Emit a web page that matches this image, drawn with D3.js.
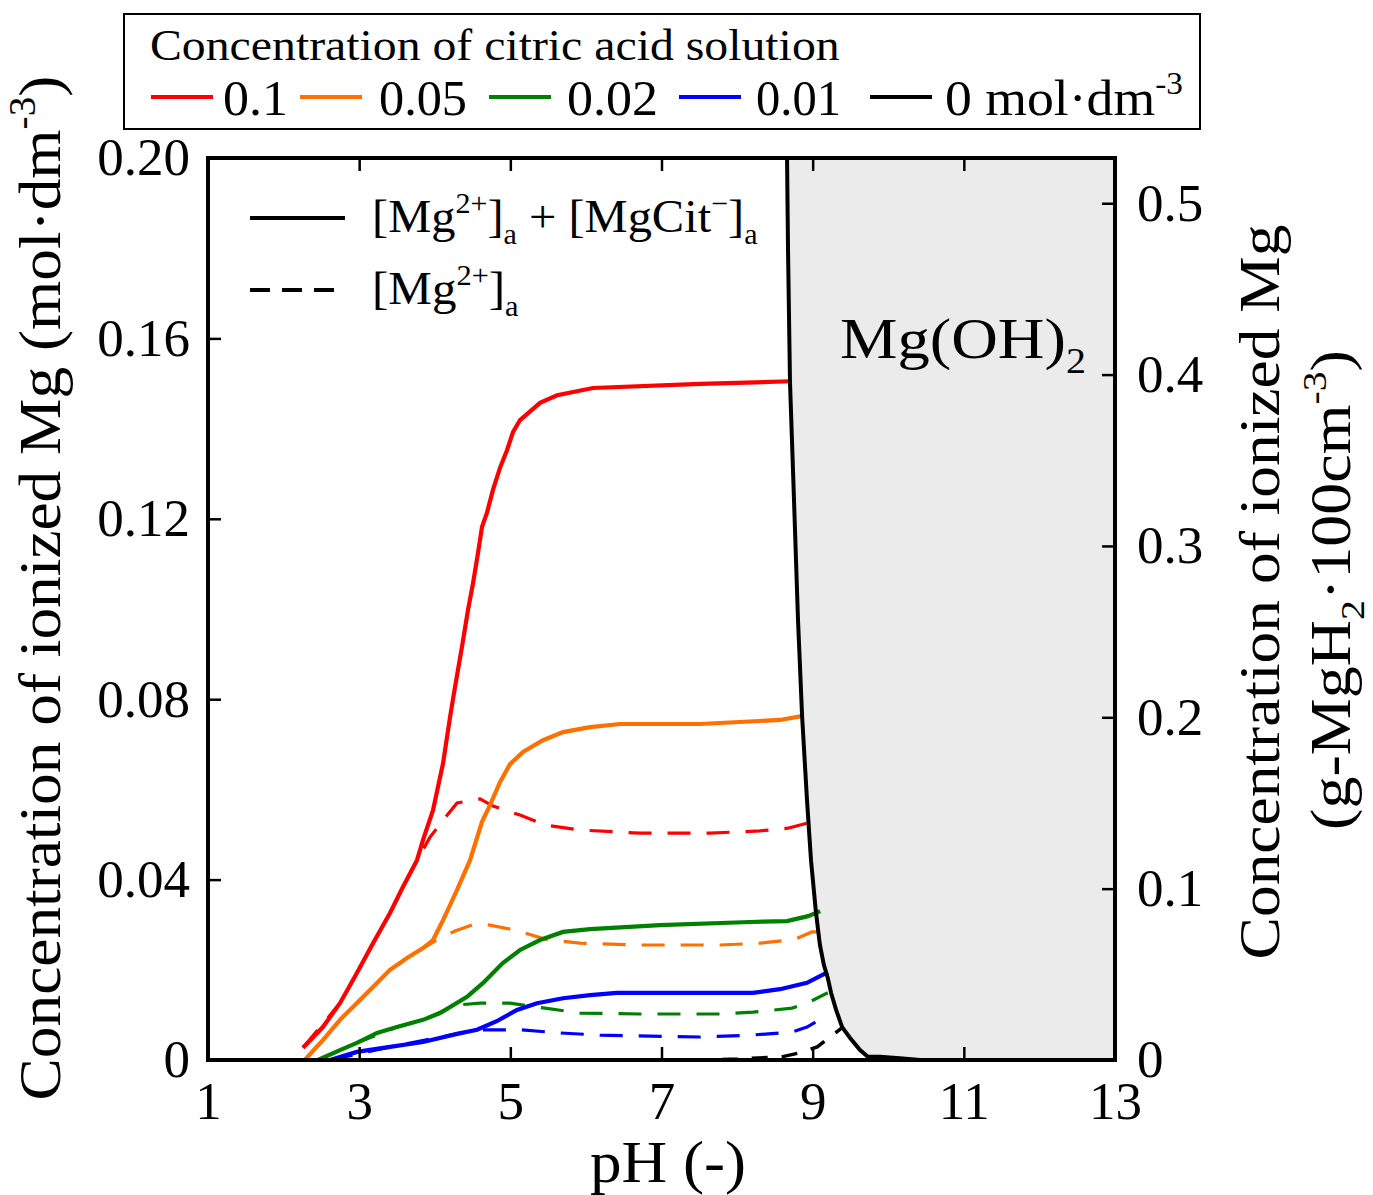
<!DOCTYPE html>
<html>
<head>
<meta charset="utf-8">
<script src="https://cdn.jsdelivr.net/npm/d3@7"></script>
<style>
  body { margin: 0; background: #fff; }
  svg { font-family: "Liberation Serif", "DejaVu Serif", serif; }
</style>
</head>
<body>
<div id="chart"></div>
<script>
// ---- data: [pH, concentration (mol/dm3)] ----
const concLabels = ["0.1", "0.05", "0.02", "0.01", "0 mol·dm"];
const concColors = ["#ff0000", "#ff7000", "#008000", "#0000ff", "#000000"];

const red_total = [[2.257,0.0027],[2.52,0.0073],[2.746,0.0126],[2.97,0.0193],[3.183,0.0259],[3.408,0.0326],
  [3.58,0.0384],[3.765,0.0443],[3.845,0.0488],[3.977,0.0554],[4.11,0.0658],[4.202,0.076],[4.268,0.0827],
  [4.36,0.0916],[4.44,0.0998],[4.506,0.1057],[4.572,0.1124],[4.625,0.1182],[4.69,0.1213],[4.77,0.1264],
  [4.863,0.1313],[4.956,0.1352],[5.035,0.1392],[5.128,0.1419],[5.393,0.1457],[5.618,0.1474],[6.094,0.149],
  [7.51,0.1499],[8.70,0.1505]];
const red_free = [[2.257,0.0027],[2.746,0.0126],[3.408,0.0326],[3.765,0.0443],[3.937,0.0494],[4.136,0.0537],
  [4.295,0.057],[4.6,0.0579],[4.77,0.0563],[5.128,0.0543],[5.46,0.0521],[5.92,0.051],[6.716,0.0503],
  [7.64,0.0503],[8.30,0.0508],[8.674,0.0514],[8.99,0.0528]];

const orange_total = [[2.28,0.0],[2.52,0.0044],[2.746,0.0089],[3.011,0.0133],[3.183,0.0162],[3.408,0.02],
  [3.633,0.0226],[3.845,0.0248],[3.977,0.0266],[4.11,0.031],[4.295,0.0377],[4.467,0.0443],[4.625,0.0528],
  [4.731,0.0565],[4.863,0.0616],[4.996,0.0656],[5.168,0.0683],[5.432,0.0709],[5.697,0.0727],[6.054,0.0738],
  [6.451,0.0745],[7.51,0.0745],[8.568,0.0754],[8.873,0.0763]];
const orange_free = [[2.28,0.0],[2.746,0.0089],[3.408,0.02],[3.845,0.0248],[4.07,0.027],[4.268,0.0286],
  [4.533,0.0302],[4.731,0.0299],[5.062,0.0288],[5.459,0.0268],[5.922,0.0259],[6.716,0.0255],[7.774,0.0255],
  [8.303,0.0259],[8.70,0.0266],[8.793,0.027],[8.99,0.0284],[9.124,0.0284]];

const green_total = [[2.455,0.0],[2.746,0.0022],[2.97,0.0038],[3.236,0.006],[3.50,0.0073],[3.845,0.0089],
  [4.07,0.0104],[4.427,0.014],[4.64,0.0171],[4.90,0.0215],[5.128,0.0244],[5.393,0.0266],[5.697,0.0284],
  [6.054,0.029],[6.98,0.0299],[8.17,0.0306],[8.66,0.0308],[8.94,0.0319],[9.10,0.033]];
const green_free = [[2.455,0.0],[2.97,0.0038],[3.50,0.0073],[3.845,0.0089],[4.07,0.0106],[4.295,0.0122],
  [4.60,0.0126],[4.996,0.0126],[5.459,0.0115],[5.92,0.0104],[6.716,0.0102],[7.774,0.0102],[8.21,0.0106],
  [8.727,0.0115],[8.925,0.0126],[9.20,0.0149]];

const blue_total = [[2.614,0.0],[2.97,0.0018],[3.408,0.0029],[3.845,0.004],[4.295,0.0058],[4.56,0.0067],
  [4.82,0.0086],[5.088,0.0111],[5.353,0.0126],[5.697,0.0137],[6.054,0.0144],[6.41,0.0149],[8.21,0.0149],
  [8.568,0.0157],[8.925,0.0171],[9.20,0.0195]];
const blue_free = [[2.614,0.0],[3.408,0.0029],[4.295,0.0058],[4.56,0.0067],[5.128,0.0067],[5.657,0.006],
  [6.187,0.0055],[7.51,0.0051],[8.17,0.0055],[8.727,0.0062],[8.925,0.0073],[9.20,0.01]];

const black_total = [[8.661,0.2],[8.674,0.1796],[8.70,0.1503],[8.753,0.1242],[8.806,0.0976],[8.86,0.0763],
  [8.925,0.0576],[8.978,0.0443],[9.043,0.0328],[9.096,0.0255],[9.148,0.0211],[9.20,0.0182],[9.243,0.0149],
  [9.31,0.0111],[9.39,0.0073],[9.495,0.0049],[9.627,0.0022],[9.73,0.0007],[9.89,0.0007],[10.156,0.0004],
  [10.42,0.0]];
const black_free = [[7.4,0.0],[8.0,0.0002],[8.59,0.0007],[8.83,0.0016],[9.06,0.0029],[9.40,0.0073]];

const xTicks = [1, 3, 5, 7, 9, 11, 13];
const yTicks = [0, 0.04, 0.08, 0.12, 0.16, 0.20];
const y2Ticks = [0, 0.1, 0.2, 0.3, 0.4, 0.5];
const mgH2PerMol = 2.632; // g-MgH2/100cm3 per mol/dm3

const series = [
  {total: red_total, free: red_free, color: concColors[0]},
  {total: orange_total, free: orange_free, color: concColors[1]},
  {total: green_total, free: green_free, color: concColors[2]},
  {total: blue_total, free: blue_free, color: concColors[3]}
];

// ---- layout ----
const W = 1373, H = 1195;
const plot = {left: 208, right: 1115, top: 158, bottom: 1060};

const svg = d3.select("#chart").append("svg")
  .attr("width", W).attr("height", H);

const x = d3.scaleLinear().domain([1, 13]).range([plot.left, plot.right]);
const y = d3.scaleLinear().domain([0, 0.2]).range([plot.bottom, plot.top]);
const y2 = d3.scaleLinear().domain([0, 0.2 * mgH2PerMol]).range([plot.bottom, plot.top]);

svg.append("clipPath").attr("id", "clip")
  .append("rect")
  .attr("x", plot.left).attr("y", plot.top)
  .attr("width", plot.right - plot.left).attr("height", plot.bottom - plot.top);

const line = d3.line().x(d => x(d[0])).y(d => y(d[1]));

const inner = svg.append("g").attr("clip-path", "url(#clip)");

// Mg(OH)2 region right of the boundary
inner.append("path")
  .datum(black_total.concat([[13, 0], [13, 0.2]]))
  .attr("d", d => line(d) + "Z")
  .attr("fill", "#ebebeb");

// rich text helper (super/subscripts)
function rich(sel, parts, size) {
  let shift = 0;
  parts.forEach(p => {
    const s = typeof p === "string" ? {t: p} : p;
    const target = s.sup ? -size * 0.42 : s.sub ? size * 0.25 : 0;
    sel.append("tspan")
      .attr("dy", target - shift)
      .attr("font-size", (s.sup || s.sub) ? size * 0.62 : size)
      .text(s.t);
    shift = target;
  });
}

function label(parts, o) {
  const g = svg.append("g")
    .attr("transform", `translate(${o.x},${o.y}) rotate(${o.rotate || 0})`);
  const t = g.append("text")
    .attr("text-anchor", o.anchor || "start")
    .attr("font-size", o.size)
    .attr("fill", "#000");
  rich(t, parts, o.size);
  if (o.width) {
    const w = t.node().getBBox().width;
    t.attr("transform", `scale(${o.width / w},1)`);
  }
  return t;
}

label(["Mg(OH)", {t: "2", sub: true}], {x: 840, y: 358, size: 58, width: 246});

// curves
series.forEach(s => {
  inner.append("path").datum(s.free)
    .attr("d", line)
    .attr("fill", "none")
    .attr("stroke", s.color)
    .attr("stroke-width", 3.2)
    .attr("stroke-dasharray", "23,16");
  inner.append("path").datum(s.total)
    .attr("d", line)
    .attr("fill", "none")
    .attr("stroke", s.color)
    .attr("stroke-width", 4.2);
});

inner.append("path").datum(black_free)
  .attr("d", line)
  .attr("fill", "none")
  .attr("stroke", "#000")
  .attr("stroke-width", 3.5)
  .attr("stroke-dasharray", "16,14");
inner.append("path").datum(black_total.concat([[13, 0]]))
  .attr("d", line)
  .attr("fill", "none")
  .attr("stroke", "#000")
  .attr("stroke-width", 4);

// axes, ticks pointing inward
function styleAxis(g, size) {
  g.select(".domain").remove();
  g.selectAll(".tick line").attr("stroke", "#000").attr("stroke-width", 2.5);
  g.selectAll(".tick text")
    .attr("font-family", "'Liberation Serif', serif")
    .attr("font-size", size)
    .attr("fill", "#000");
}

svg.append("g")
  .attr("transform", `translate(0,${plot.bottom})`)
  .call(d3.axisBottom(x).tickValues(xTicks).tickSize(-13).tickPadding(21).tickFormat(d3.format("d")))
  .call(g => styleAxis(g, 53));

svg.append("g")
  .attr("transform", `translate(0,${plot.top})`)
  .call(d3.axisTop(x).tickValues(xTicks).tickSize(-13).tickFormat(""))
  .call(g => styleAxis(g, 53));

svg.append("g")
  .attr("transform", `translate(${plot.left},0)`)
  .call(d3.axisLeft(y).tickValues(yTicks).tickSize(-13).tickPadding(18)
    .tickFormat(d => d === 0 ? "0" : d3.format(".2f")(d)))
  .call(g => styleAxis(g, 53));

svg.append("g")
  .attr("transform", `translate(${plot.right},0)`)
  .call(d3.axisRight(y2).tickValues(y2Ticks).tickSize(-13).tickPadding(22)
    .tickFormat(d => d === 0 ? "0" : d3.format(".1f")(d)))
  .call(g => styleAxis(g, 53));

// frame
svg.append("rect")
  .attr("x", plot.left).attr("y", plot.top)
  .attr("width", plot.right - plot.left).attr("height", plot.bottom - plot.top)
  .attr("fill", "none").attr("stroke", "#000").attr("stroke-width", 4);

// axis titles
label(["pH (-)"], {x: 668, y: 1182, size: 60, anchor: "middle", width: 156});
label(["Concentration of ionized Mg (mol·dm", {t: "-3", sup: true}, ")"],
  {x: 60, y: 588, size: 60, anchor: "middle", rotate: -90, width: 1025});
label(["Concentration of ionized Mg"],
  {x: 1279, y: 592, size: 58, anchor: "middle", rotate: -90, width: 735});
label(["(g-MgH", {t: "2", sub: true}, "·100cm", {t: "-3", sup: true}, ")"],
  {x: 1350, y: 590, size: 56, anchor: "middle", rotate: -90, width: 480});

// inner legend (line style)
svg.append("line").attr("x1", 250).attr("x2", 345).attr("y1", 218).attr("y2", 218)
  .attr("stroke", "#000").attr("stroke-width", 4);
svg.append("line").attr("x1", 250).attr("x2", 345).attr("y1", 290).attr("y2", 290)
  .attr("stroke", "#000").attr("stroke-width", 4).attr("stroke-dasharray", "20,12");
label(["[Mg", {t: "2+", sup: true}, "]", {t: "a", sub: true}, " + [MgCit", {t: "−", sup: true}, "]", {t: "a", sub: true}],
  {x: 372, y: 232, size: 46, width: 386});
label(["[Mg", {t: "2+", sup: true}, "]", {t: "a", sub: true}],
  {x: 372, y: 304, size: 46, width: 147});

// top legend (concentration)
svg.append("rect").attr("x", 124).attr("y", 14).attr("width", 1076).attr("height", 115)
  .attr("fill", "#fff").attr("stroke", "#000").attr("stroke-width", 2);
label(["Concentration of citric acid solution"], {x: 150, y: 60, size: 44, width: 690});

const legLineX = [151, 300, 489, 679, 870];
const legTextX = [223, 379, 567, 756, 945];
const legTextW = [65, 88, 91, 85, 238];
concLabels.forEach((lab, i) => {
  svg.append("line")
    .attr("x1", legLineX[i]).attr("x2", legLineX[i] + 62)
    .attr("y1", 97).attr("y2", 97)
    .attr("stroke", concColors[i]).attr("stroke-width", 4);
  const parts = i === 4 ? [lab, {t: "-3", sup: true}] : [lab];
  label(parts, {x: legTextX[i], y: 115, size: 50, width: legTextW[i]});
});
</script>
</body>
</html>
